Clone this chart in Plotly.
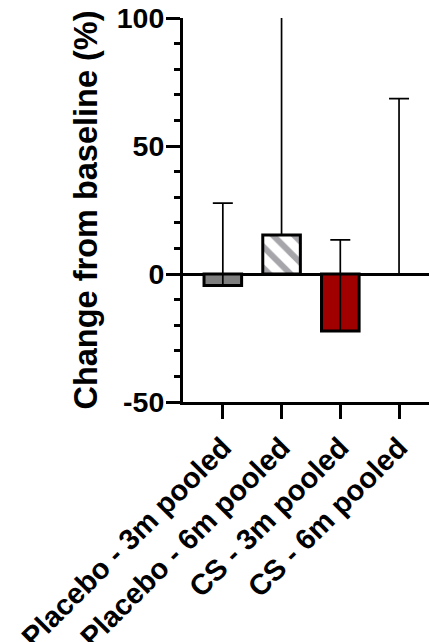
import plotly.graph_objects as go

categories = ["Placebo - 3m pooled", "Placebo - 6m pooled", "CS - 3m pooled", "CS - 6m pooled"]
means = [-4.5, 15.2, -22.3, 0.0]
err_plus = [32.2, 100.0, 35.6, 68.5]
err_minus = [0, 0, 0, 0]
colors = ["#7f7f7f", "#a5a5aa", "#a00000", "#ffffff"]
pattern_shapes = ["", "\\", "", ""]
outline_widths = [3, 3, 3, 0]
y_tickvals = [-50, 0, 50, 100]
y_ticktext = ["-50", "0", "50", "100"]

FONT = "Arial, Liberation Sans, sans-serif"

fig = go.Figure()
fig.add_trace(go.Bar(
    x=list(range(len(categories))),
    y=means,
    width=0.64,
    marker=dict(
        color=colors,
        line=dict(color="black", width=outline_widths),
        pattern=dict(shape=pattern_shapes, fgcolor="white", bgcolor=colors,
                     size=15, solidity=0.4, fillmode="replace"),
    ),
    error_y=dict(type="data", symmetric=False, array=err_plus, arrayminus=err_minus,
                 color="black", thickness=1.7, width=10),
    showlegend=False,
    hoverinfo="skip",
))

fig.update_layout(
    width=429, height=642,
    margin=dict(l=183, r=0, t=18, b=240),
    plot_bgcolor="white", paper_bgcolor="white",
    font=dict(family=FONT, color="black"),
)
fig.update_xaxes(
    range=[-0.678, 3.51],
    tickmode="array", tickvals=list(range(len(categories))), ticktext=categories,
    tickangle=-45, automargin=False,
    tickfont=dict(size=29, family=FONT, weight="bold", color="black"),
    showline=True, linecolor="black", linewidth=3,
    ticks="outside", ticklen=14, tickwidth=3, tickcolor="black",
    showgrid=False, zeroline=False,
)
fig.update_yaxes(
    range=[-50, 100], automargin=False,
    tickmode="array", tickvals=y_tickvals, ticktext=y_ticktext,
    tickfont=dict(size=28.5, family=FONT, weight="bold", color="black"),
    ticklabelstandoff=-4,
    showline=True, linecolor="black", linewidth=3,
    ticks="outside", ticklen=14, tickwidth=3, tickcolor="black",
    minor=dict(dtick=10, tick0=0, ticks="outside", ticklen=6, tickwidth=3, tickcolor="black", showgrid=False),
    showgrid=False,
    zeroline=True, zerolinecolor="black", zerolinewidth=3,
    title=dict(text="Change from baseline (%)", standoff=10,
               font=dict(size=32.5, family=FONT, weight="bold", color="black")),
)

fig.write_html("out.html", config={"displayModeBar": False},
               post_script="document.body.style.margin='0';")
